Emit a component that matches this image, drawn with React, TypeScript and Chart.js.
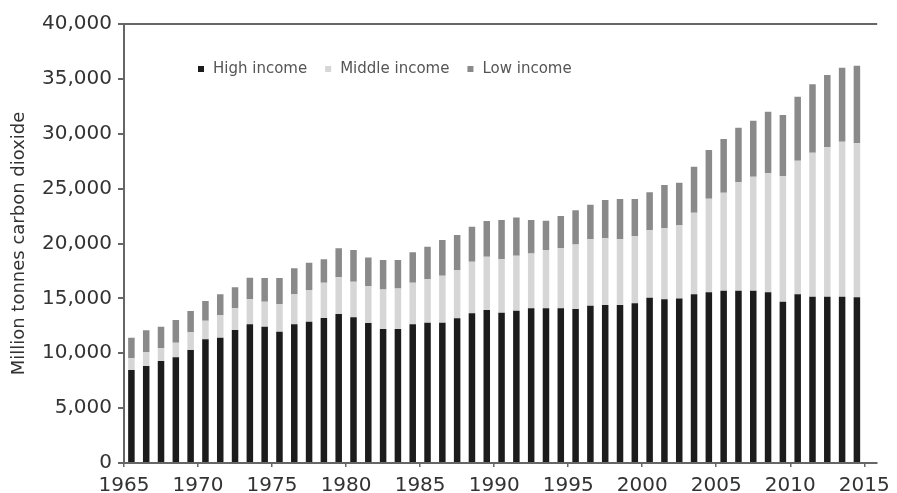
import React, { useEffect, useRef } from 'react';
import { Chart, registerables } from 'chart.js';

Chart.register(...registerables);

const years = [
  1965, 1966, 1967, 1968, 1969, 1970, 1971, 1972, 1973, 1974,
  1975, 1976, 1977, 1978, 1979, 1980, 1981, 1982, 1983, 1984,
  1985, 1986, 1987, 1988, 1989, 1990, 1991, 1992, 1993, 1994,
  1995, 1996, 1997, 1998, 1999, 2000, 2001, 2002, 2003, 2004,
  2005, 2006, 2007, 2008, 2009, 2010, 2011, 2012, 2013, 2014,
];

const highIncome = [
  8470, 8840, 9290, 9630, 10290, 11270, 11420, 12120, 12640, 12420,
  11960, 12640, 12870, 13210, 13570, 13270, 12750, 12210, 12210, 12640,
  12780, 12780, 13180, 13640, 13940, 13690, 13870, 14090, 14090, 14090,
  14030, 14330, 14390, 14390, 14550, 15060, 14910, 15000, 15370, 15550,
  15700, 15700, 15700, 15550, 14700, 15370, 15150, 15150, 15150, 15100,
];

const middleIncome = [
  1070, 1240, 1160, 1330, 1620, 1690, 2060, 1970, 2270, 2280,
  2530, 2760, 2890, 3220, 3350, 3250, 3380, 3610, 3700, 3790,
  3980, 4280, 4400, 4700, 4850, 4870, 5020, 5010, 5310, 5470,
  5890, 6050, 6080, 5990, 6130, 6170, 6470, 6680, 7430, 8530,
  8920, 9870, 10380, 10840, 11450, 12170, 13120, 13610, 14120, 14030,
];

const lowIncome = [
  1880, 2010, 1970, 2070, 1940, 1800, 1890, 1920, 1970, 2150,
  2360, 2340, 2490, 2130, 2640, 2880, 2590, 2670, 2580, 2770,
  2950, 3260, 3190, 3190, 3260, 3580, 3490, 3040, 2670, 2940,
  3100, 3150, 3490, 3670, 3370, 3430, 3950, 3860, 4190, 4430,
  4900, 4980, 5100, 5610, 5550, 5830, 6230, 6590, 6740, 7070,
];

const xTickLabels = [1965, 1970, 1975, 1980, 1985, 1990, 1995, 2000, 2005, 2010, 2015];
const yTickValues = [0, 5000, 10000, 15000, 20000, 25000, 30000, 35000, 40000];

const seriesNames = ['High income', 'Middle income', 'Low income'];
const seriesColors = ['#1c1c1c', '#d6d6d6', '#8a8a8a'];
const yAxisTitle = 'Million tonnes carbon dioxide';

const AXIS = '#666666';
const TEXT = '#333333';
const FONT = '"DejaVu Sans", Verdana, sans-serif';

const insideLegend = {
  id: 'insideLegend',
  afterDatasetsDraw(chart: any) {
    const { ctx, chartArea } = chart;
    ctx.save();
    ctx.font = `15px ${FONT}`;
    ctx.textBaseline = 'middle';
    ctx.textAlign = 'left';
    let x = chartArea.left + 74;
    const y = chartArea.top + 45;
    chart.data.datasets.forEach((ds: any) => {
      ctx.fillStyle = ds.backgroundColor;
      ctx.fillRect(x, y - 3, 6, 6);
      x += 15;
      ctx.fillStyle = '#555555';
      ctx.fillText(ds.label, x, y);
      x += ctx.measureText(ds.label).width + 18;
    });
    ctx.restore();
  },
};

export default function App() {
  const canvasRef = useRef<HTMLCanvasElement | null>(null);

  useEffect(() => {
    if (!canvasRef.current) return;
    const series = [highIncome, middleIncome, lowIncome];
    const chart = new Chart(canvasRef.current, {
      type: 'bar',
      data: {
        datasets: series.map((vals, si) => ({
          label: seriesNames[si],
          data: years.map((yr, i) => ({ x: yr + 0.5, y: vals[i] })),
          backgroundColor: seriesColors[si],
          borderWidth: 0,
          barPercentage: 0.44,
          categoryPercentage: 1,
        })),
      },
      options: {
        animation: false,
        responsive: true,
        maintainAspectRatio: false,
        layout: { padding: { top: 24, right: 14, left: 0, bottom: 0 } },
        plugins: {
          legend: { display: false },
          tooltip: { enabled: false },
          title: { display: false },
        },
        scales: {
          x: {
            type: 'linear',
            min: 1965,
            max: 2015.87,
            offset: false,
            stacked: true,
            afterBuildTicks: (s: any) => {
              s.ticks = xTickLabels.map((v) => ({ value: v }));
            },
            afterFit: (s: any) => {
              s.height = 30;
            },
            ticks: {
              autoSkip: false,
              maxRotation: 0,
              padding: 7,
              color: TEXT,
              font: { family: FONT, size: 20 },
              callback: (v: any) => String(v),
            },
            grid: {
              offset: false,
              drawOnChartArea: false,
              tickLength: 4,
              color: AXIS,
              lineWidth: 1.5,
            },
            border: { color: AXIS, width: 2 },
          },
          y: {
            type: 'linear',
            min: 0,
            max: 40000,
            stacked: true,
            afterBuildTicks: (s: any) => {
              s.ticks = yTickValues.map((v) => ({ value: v }));
            },
            afterFit: (s: any) => {
              s.width = 124;
            },
            ticks: {
              padding: 6,
              color: TEXT,
              font: { family: FONT, size: 20 },
              callback: (v: any) => Number(v).toLocaleString('en-US'),
            },
            grid: {
              color: (c: any) => (c.tick && c.tick.value === 40000 ? AXIS : 'rgba(0,0,0,0)'),
              tickColor: AXIS,
              tickLength: 6,
              lineWidth: 2,
            },
            border: { color: AXIS, width: 2 },
            title: {
              display: true,
              text: yAxisTitle,
              color: TEXT,
              font: { family: FONT, size: 18 },
              padding: { top: 9, bottom: 0 },
            },
          },
        },
      },
      plugins: [insideLegend],
    } as any);
    return () => chart.destroy();
  }, []);

  return (
    <div style={{ position: 'absolute', left: 0, top: 0, width: '897px', height: '493px' }}>
      <canvas ref={canvasRef} />
    </div>
  );
}
